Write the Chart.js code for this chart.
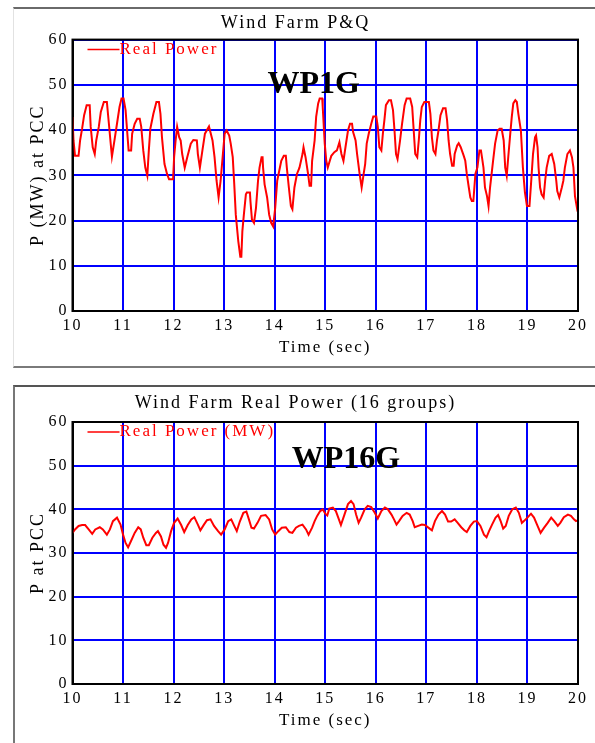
<!DOCTYPE html>
<html>
<head>
<meta charset="utf-8">
<title>Wind Farm P&amp;Q</title>
<script src="https://cdn.jsdelivr.net/npm/chart.js@4.4.0/dist/chart.umd.min.js"></script>
<style>
  body { margin: 0; background: #fff; width: 595px; height: 743px; position: relative; overflow: hidden; }
  .frame { position: absolute; box-sizing: border-box; }
  #frame1 { left: 13px; top: 7px; width: 600px; height: 361px; border-top: 2px solid #6a6a6a; border-bottom: 2px solid #7a7a7a; border-left: 1px solid #e2e2e2; }
  #frame2 { left: 13px; top: 385px; width: 600px; height: 400px; border-top: 2px solid #555; border-left: 2px solid #777; }
  canvas { position: absolute; }
  #chart1 { left: 13px; top: 8px; }
  #chart2 { left: 13px; top: 387px; }
</style>
</head>
<body>
<div class="frame" id="frame1"></div>
<div class="frame" id="frame2"></div>
<canvas id="chart1" width="582" height="358"></canvas>
<canvas id="chart2" width="582" height="356"></canvas>
<script>
// single group wind farm (WP1G), time in sec / real power in MW
const times1 = [10.00, 10.02, 10.05, 10.12, 10.15, 10.19, 10.23, 10.28, 10.34, 10.36, 10.40, 10.44, 10.47, 10.52, 10.56, 10.62, 10.68, 10.72, 10.75, 10.78,
    10.83, 10.88, 10.93, 10.97, 11.01, 11.05, 11.08, 11.11, 11.16, 11.18, 11.23, 11.28, 11.33, 11.36, 11.40, 11.44, 11.48, 11.51, 11.54, 11.60,
    11.66, 11.71, 11.74, 11.77, 11.82, 11.87, 11.91, 11.99, 12.01, 12.04, 12.07, 12.11, 12.14, 12.17, 12.22, 12.27, 12.34, 12.39, 12.46, 12.48,
    12.52, 12.57, 12.62, 12.70, 12.77, 12.81, 12.85, 12.89, 12.93, 12.97, 13.01, 13.05, 13.10, 13.13, 13.17, 13.20, 13.23, 13.28, 13.32, 13.34,
    13.36, 13.39, 13.43, 13.45, 13.51, 13.52, 13.55, 13.59, 13.63, 13.67, 13.70, 13.74, 13.76, 13.77, 13.80, 13.85, 13.89, 13.93, 13.97, 14.01,
    14.05, 14.09, 14.13, 14.18, 14.22, 14.24, 14.28, 14.32, 14.35, 14.39, 14.44, 14.49, 14.55, 14.57, 14.61, 14.66, 14.69, 14.72, 14.74, 14.79,
    14.82, 14.86, 14.89, 14.94, 14.95, 14.99, 15.02, 15.05, 15.09, 15.12, 15.18, 15.23, 15.28, 15.32, 15.36, 15.40, 15.45, 15.49, 15.53, 15.55,
    15.60, 15.63, 15.68, 15.72, 15.76, 15.79, 15.82, 15.86, 15.91, 15.95, 16.01, 16.04, 16.07, 16.11, 16.14, 16.17, 16.20, 16.26, 16.30, 16.34,
    16.37, 16.40, 16.43, 16.48, 16.52, 16.57, 16.61, 16.68, 16.72, 16.75, 16.78, 16.82, 16.85, 16.88, 16.91, 16.96, 17.05, 17.08, 17.11, 17.14,
    17.18, 17.21, 17.24, 17.28, 17.33, 17.38, 17.41, 17.44, 17.47, 17.51, 17.54, 17.56, 17.61, 17.64, 17.68, 17.74, 17.77, 17.80, 17.84, 17.87,
    17.90, 17.93, 17.97, 18.01, 18.05, 18.08, 18.10, 18.13, 18.16, 18.20, 18.23, 18.26, 18.32, 18.36, 18.41, 18.45, 18.49, 18.53, 18.56, 18.59,
    18.62, 18.66, 18.69, 18.72, 18.76, 18.79, 18.82, 18.87, 18.91, 18.95, 18.99, 19.04, 19.07, 19.11, 19.15, 19.17, 19.20, 19.22, 19.25, 19.28,
    19.32, 19.35, 19.38, 19.43, 19.48, 19.53, 19.57, 19.59, 19.63, 19.68, 19.71, 19.74, 19.79, 19.84, 19.88, 19.91, 19.94, 19.99, 20.00]
const power1 = [42.9, 37.7, 34.3, 34.3, 37.7, 40.3, 43.3, 45.5, 45.5, 40.7, 36.2, 34.7, 37.7, 40.7, 44.0, 46.2, 46.2, 41.4, 37.7, 34.1,
    37.7, 41.4, 45.1, 47.0, 47.0, 44.4, 39.9, 35.5, 35.5, 39.2, 41.4, 42.5, 42.5, 40.7, 35.5, 31.7, 29.9, 35.5, 40.3, 43.6,
    46.2, 46.2, 43.6, 38.4, 32.5, 30.3, 29.1, 29.1, 34.0, 37.7, 40.7, 38.4, 37.7, 34.7, 31.7, 34.0, 37.0, 37.8, 37.7, 34.7,
    31.7, 35.5, 39.2, 40.8, 37.7, 34.0, 28.8, 25.1, 28.8, 34.0, 39.2, 39.9, 38.8, 37.0, 34.0, 28.0, 21.3, 15.4, 12.0, 12.0,
    17.6, 21.3, 25.8, 26.2, 26.2, 24.3, 20.2, 19.5, 22.8, 28.8, 31.7, 34.0, 34.0, 31.7, 28.0, 25.1, 21.3, 19.5, 18.7, 22.8,
    28.8, 31.0, 33.2, 34.3, 34.3, 31.7, 27.3, 23.2, 22.5, 27.3, 30.3, 31.7, 34.7, 36.2, 34.0, 30.3, 27.7, 27.7, 33.2, 37.7,
    42.9, 45.9, 47.0, 47.0, 45.1, 37.0, 33.2, 31.7, 33.2, 34.3, 35.1, 35.5, 37.3, 34.7, 33.2, 36.2, 39.9, 41.4, 41.4, 39.6,
    37.7, 34.7, 30.3, 27.3, 30.3, 32.5, 37.0, 39.2, 41.4, 43.0, 43.0, 40.7, 36.2, 35.5, 39.2, 42.2, 45.5, 46.6, 46.6, 44.4,
    39.9, 34.7, 33.6, 37.7, 41.4, 45.5, 47.0, 47.0, 45.1, 39.9, 34.7, 34.0, 37.7, 42.2, 45.1, 46.2, 46.2, 43.6, 38.4, 35.5,
    34.7, 37.7, 39.9, 43.3, 44.8, 44.8, 42.2, 37.7, 34.7, 32.1, 32.1, 34.7, 36.6, 37.1, 36.2, 34.3, 33.2, 30.3, 27.3, 25.1,
    24.3, 24.3, 30.3, 31.7, 35.5, 35.5, 34.0, 31.7, 27.3, 25.4, 23.2, 27.3, 33.2, 37.0, 39.9, 40.3, 40.3, 37.7, 31.7, 29.9,
    34.0, 39.2, 42.9, 45.9, 46.6, 46.2, 43.6, 39.9, 31.7, 26.2, 23.2, 23.2, 28.0, 34.7, 38.4, 38.8, 36.2, 31.7, 27.3, 25.8,
    25.1, 28.8, 31.7, 34.3, 34.7, 32.5, 28.8, 26.5, 25.1, 27.3, 28.8, 31.7, 34.7, 35.5, 34.0, 31.7, 25.4, 22.1, 22.0]

// 16 groups wind farm (WP16G)
const times16 = [10.00, 10.05, 10.12, 10.19, 10.25, 10.32, 10.39, 10.45, 10.54, 10.60, 10.68, 10.74, 10.80, 10.88, 10.95, 11.00, 11.05, 11.10, 11.16, 11.23,
    11.30, 11.35, 11.40, 11.46, 11.51, 11.58, 11.65, 11.69, 11.75, 11.80, 11.85, 11.89, 11.95, 12.01, 12.08, 12.15, 12.21, 12.28, 12.35, 12.41,
    12.48, 12.53, 12.60, 12.66, 12.73, 12.80, 12.88, 12.94, 13.01, 13.08, 13.14, 13.20, 13.25, 13.31, 13.38, 13.44, 13.49, 13.54, 13.59, 13.66,
    13.73, 13.82, 13.89, 13.95, 14.01, 14.07, 14.14, 14.22, 14.29, 14.35, 14.42, 14.48, 14.55, 14.62, 14.67, 14.74, 14.79, 14.84, 14.90, 14.95,
    15.00, 15.04, 15.08, 15.15, 15.21, 15.27, 15.31, 15.38, 15.45, 15.51, 15.56, 15.61, 15.66, 15.71, 15.78, 15.84, 15.91, 15.98, 16.04, 16.11,
    16.18, 16.24, 16.31, 16.36, 16.41, 16.46, 16.53, 16.61, 16.67, 16.73, 16.77, 16.84, 16.91, 16.97, 17.04, 17.11, 17.17, 17.24, 17.31, 17.37,
    17.43, 17.49, 17.56, 17.62, 17.69, 17.75, 17.80, 17.87, 17.94, 18.00, 18.07, 18.14, 18.19, 18.24, 18.30, 18.37, 18.42, 18.47, 18.52, 18.57,
    18.63, 18.70, 18.77, 18.83, 18.89, 18.93, 19.00, 19.07, 19.13, 19.20, 19.26, 19.33, 19.40, 19.47, 19.53, 19.60, 19.65, 19.72, 19.80, 19.86,
    19.92, 19.96, 20.00]
const power16 = [34.6, 35.4, 36.2, 36.4, 36.4, 35.4, 34.4, 35.4, 35.9, 35.4, 34.2, 35.4, 37.3, 38.1, 36.5, 34.2, 32.3, 31.3, 32.8, 34.6,
    35.9, 35.4, 33.5, 31.8, 31.8, 33.5, 34.6, 35.0, 33.8, 31.9, 31.2, 32.3, 35.0, 36.9, 37.9, 36.4, 34.8, 36.4, 37.7, 38.2,
    36.5, 35.2, 36.5, 37.5, 37.7, 36.2, 35.0, 34.2, 35.4, 37.3, 37.7, 36.2, 35.0, 37.2, 39.2, 39.5, 37.7, 35.8, 35.6, 36.9,
    38.5, 38.7, 37.7, 35.4, 34.2, 35.0, 35.8, 35.9, 34.8, 34.6, 35.8, 36.2, 36.5, 35.4, 34.2, 35.8, 37.3, 38.5, 39.6, 40.0,
    39.0, 38.6, 40.2, 40.4, 39.6, 37.7, 36.4, 38.8, 41.2, 41.9, 41.2, 38.8, 36.9, 38.1, 40.0, 40.8, 40.5, 39.2, 37.9, 39.6,
    40.4, 40.0, 38.8, 37.7, 36.5, 37.3, 38.5, 39.2, 38.8, 37.3, 35.9, 36.2, 36.5, 36.4, 35.8, 35.2, 37.3, 38.8, 39.6, 38.8,
    37.2, 37.2, 37.7, 36.9, 35.9, 35.2, 34.8, 36.2, 37.2, 37.3, 36.2, 34.2, 33.6, 35.0, 36.5, 38.1, 38.7, 37.3, 35.6, 36.2,
    38.5, 40.0, 40.4, 39.2, 36.9, 37.3, 38.1, 39.0, 38.1, 36.2, 34.6, 35.8, 36.9, 38.1, 37.3, 36.2, 36.9, 38.2, 38.8, 38.5,
    37.7, 37.3, 37.5]

Chart.defaults.font.family = "'Liberation Serif', 'Times New Roman', serif"
Chart.defaults.color = '#000'

// plot box, legend sample and big tag drawn on top of the line
const framePlugin = {
    id: 'frameLabel',
    beforeDraw(chart) {
        chart.ctx.letterSpacing = '2px'
    },
    afterDatasetsDraw(chart, args, opts) {
        const { ctx, chartArea: a, scales } = chart
        const ds = chart.data.datasets[0]
        ctx.save()
        ctx.strokeStyle = '#000'
        ctx.lineWidth = 2
        ctx.strokeRect(a.left, a.top, a.right - a.left, a.bottom - a.top)

        ctx.strokeStyle = ds.borderColor
        ctx.lineWidth = 1.5
        ctx.beginPath()
        ctx.moveTo(a.left + 15, a.top + 10)
        ctx.lineTo(a.left + 47, a.top + 10)
        ctx.stroke()
        ctx.fillStyle = ds.borderColor
        ctx.font = "17px 'Liberation Serif'"
        ctx.textAlign = 'left'
        ctx.textBaseline = 'middle'
        ctx.fillText(ds.label, a.left + 47, a.top + 10)

        ctx.letterSpacing = '0px'
        ctx.fillStyle = '#000'
        ctx.font = "bold 32px 'Liberation Serif'"
        ctx.textAlign = 'center'
        ctx.textBaseline = 'alphabetic'
        ctx.fillText(opts.tag, scales.x.getPixelForValue(opts.tagX), scales.y.getPixelForValue(opts.tagY))
        ctx.restore()
    }
}

const makeChart = (id, times, values, cfg) => {
    const ctx = document.getElementById(id).getContext('2d')
    const points = times.map((t, i) => ({ x: t, y: values[i] }))
    const grid = { color: '#0000ff', lineWidth: 2, drawTicks: false }
    return new Chart(ctx, {
        type: 'line',
        data: {
            datasets: [{
                label: cfg.label,
                data: points,
                borderColor: '#ff0000',
                borderWidth: 2,
                pointRadius: 0,
                tension: 0,
                fill: false
            }]
        },
        options: {
            responsive: false,
            animation: false,
            events: [],
            layout: { padding: { right: 17 } },
            plugins: {
                legend: { display: false },
                tooltip: { enabled: false },
                title: {
                    display: true,
                    text: cfg.title,
                    color: '#000',
                    font: { size: 18, weight: 'normal' },
                    padding: cfg.titlePad
                },
                frameLabel: { tag: cfg.tag, tagX: cfg.tagX, tagY: cfg.tagY }
            },
            scales: {
                x: {
                    type: 'linear',
                    min: 10,
                    max: 20,
                    ticks: { stepSize: 1, padding: 5, font: { size: 16 }, color: '#000' },
                    grid: grid,
                    border: { color: '#000', width: 2 },
                    title: { display: true, text: 'Time (sec)', color: '#000', font: { size: 17 }, padding: { top: 0, bottom: cfg.xTitlePad } },
                    afterFit: (s) => { s.height = cfg.xAxisH }
                },
                y: {
                    min: 0,
                    max: 60,
                    ticks: { stepSize: 10, padding: 4, font: { size: 16 }, color: '#000' },
                    grid: grid,
                    border: { color: '#000', width: 2 },
                    title: { display: true, text: cfg.yTitle, color: '#000', font: { size: 18 }, padding: { top: 14, bottom: 0 } },
                    afterFit: (s) => { s.width = 59.5 }
                }
            }
        },
        plugins: [framePlugin]
    })
}

window.onload = function() {
    makeChart('chart1', times1, power1, {
        label: 'Real Power',
        title: 'Wind Farm P&Q',
        yTitle: 'P (MW) at PCC',
        tag: 'WP1G', tagX: 14.77, tagY: 48.2,
        titlePad: { top: 4, bottom: 6 },
        xTitlePad: 8,
        xAxisH: 55
    })
    makeChart('chart2', times16, power16, {
        label: 'Real Power (MW)',
        title: 'Wind Farm Real Power (16 groups)',
        yTitle: 'P at PCC',
        tag: 'WP16G', tagX: 15.41, tagY: 49.4,
        titlePad: { top: 5, bottom: 8.4 },
        xTitlePad: 12,
        xAxisH: 59
    })
}
</script>
</body>
</html>
